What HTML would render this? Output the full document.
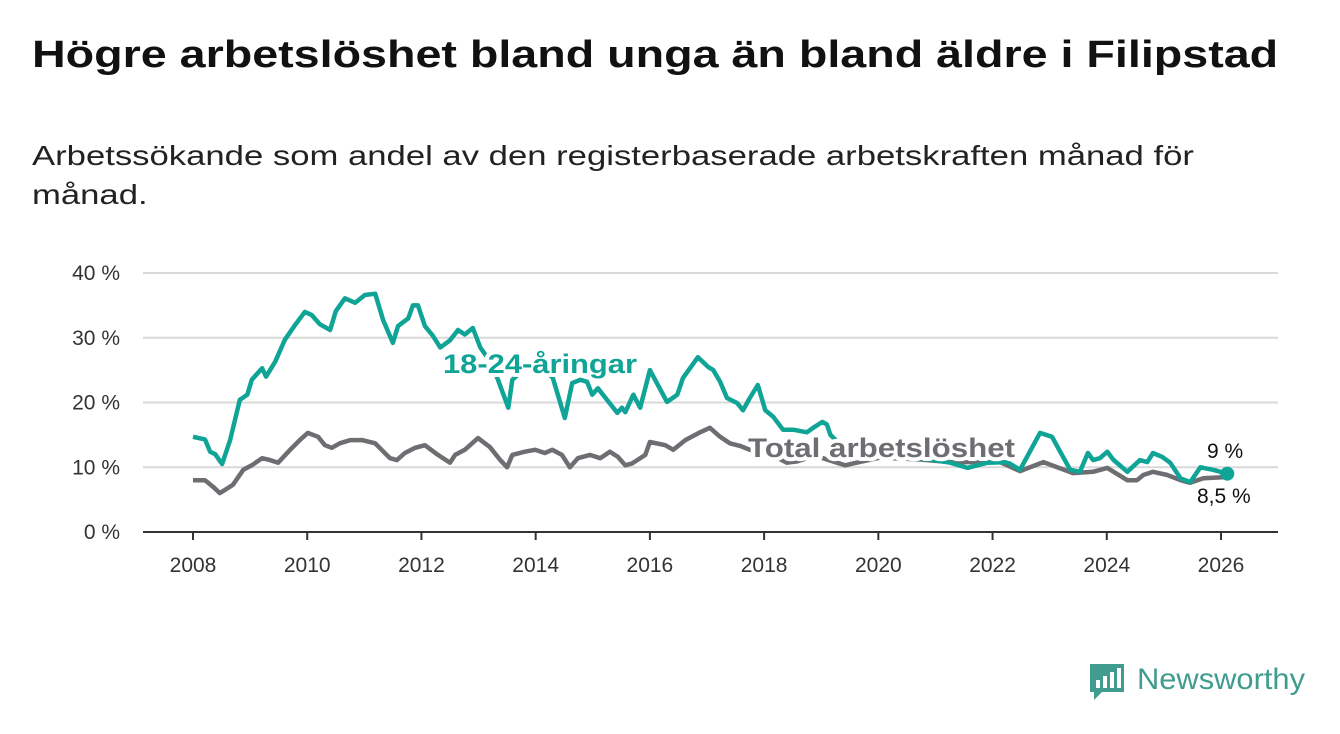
<!DOCTYPE html>
<html><head><meta charset="utf-8">
<style>
body{margin:0;background:#fff;width:1340px;height:734px;overflow:hidden;font-family:"Liberation Sans",sans-serif;}
.t{position:absolute;left:32px;top:34px;font-size:38px;font-weight:bold;color:#111;transform:scaleX(1.227);transform-origin:0 0;white-space:nowrap;}
.s{position:absolute;left:32px;top:136px;font-size:28px;line-height:39px;color:#222;transform:scaleX(1.238);transform-origin:0 0;white-space:nowrap;}
svg{position:absolute;left:0;top:0;}
</style></head><body>
<div class="t">Högre arbetslöshet bland unga än bland äldre i Filipstad</div>
<div class="s">Arbetssökande som andel av den registerbaserade arbetskraften månad för<br>månad.</div>
<svg id="c" width="1340" height="734"></svg>
<script>
const yTicks=[0,10,20,30,40];
const yTickLabels=["0 %","10 %","20 %","30 %","40 %"];
const xTicks=[2008,2010,2012,2014,2016,2018,2020,2022,2024,2026];
const youthYears=[2008.00,2008.21,2008.30,2008.39,2008.51,2008.65,2008.82,2008.95,2009.03,2009.21,2009.28,2009.44,2009.61,2009.79,2009.96,2010.08,2010.22,2010.40,2010.50,2010.66,2010.84,2011.01,2011.19,2011.33,2011.50,2011.59,2011.77,2011.85,2011.94,2012.06,2012.20,2012.33,2012.50,2012.64,2012.76,2012.90,2013.03,2013.24,2013.34,2013.52,2013.59,2013.90,2014.16,2014.30,2014.51,2014.64,2014.78,2014.90,2014.99,2015.09,2015.43,2015.51,2015.57,2015.71,2015.83,2016.00,2016.30,2016.48,2016.58,2016.84,2017.02,2017.11,2017.23,2017.35,2017.53,2017.63,2017.75,2017.89,2018.02,2018.16,2018.33,2018.51,2018.75,2018.86,2019.02,2019.10,2019.16,2019.51,2020.03,2020.56,2020.91,2021.26,2021.56,2021.91,2022.26,2022.48,2022.83,2023.04,2023.36,2023.53,2023.67,2023.76,2023.88,2024.01,2024.11,2024.36,2024.58,2024.71,2024.81,2024.97,2025.11,2025.29,2025.46,2025.64,2025.86,2026.11];
const youthValues=[14.7,14.3,12.4,12.0,10.5,14.2,20.4,21.2,23.5,25.3,24.0,26.3,29.7,32.0,34.0,33.5,32.1,31.2,34.1,36.1,35.4,36.6,36.8,32.7,29.2,31.8,33.0,35.0,35.0,31.8,30.3,28.5,29.6,31.2,30.5,31.5,28.5,25.8,23.5,19.2,23.5,26,25,23.8,17.6,23.0,23.5,23.2,21.2,22.2,18.4,19.2,18.5,21.2,19.2,25.0,20.1,21.2,23.8,27.0,25.5,25.0,23.2,20.7,19.9,18.8,20.7,22.7,18.8,17.8,15.8,15.8,15.4,16.1,17.0,16.6,15.0,12.0,12.0,11.5,11.2,10.7,9.9,10.7,10.8,9.6,15.3,14.7,9.6,9.3,12.2,11.1,11.4,12.4,11.2,9.3,11.1,10.8,12.2,11.6,10.7,8.3,7.7,10.0,9.6,9.0];
const totalYears=[2008.00,2008.21,2008.35,2008.47,2008.56,2008.70,2008.88,2009.03,2009.21,2009.35,2009.49,2009.70,2009.87,2010.01,2010.19,2010.31,2010.43,2010.57,2010.75,2010.96,2011.19,2011.45,2011.57,2011.71,2011.89,2012.06,2012.29,2012.50,2012.59,2012.76,2012.99,2013.20,2013.38,2013.50,2013.59,2013.81,2013.99,2014.16,2014.29,2014.46,2014.60,2014.74,2014.95,2015.13,2015.30,2015.44,2015.57,2015.69,2015.92,2016.00,2016.27,2016.41,2016.62,2016.88,2017.05,2017.23,2017.40,2017.58,2017.75,2018.11,2018.40,2018.58,2018.89,2019.42,2019.56,2020.03,2020.73,2021.26,2022.13,2022.48,2022.89,2023.41,2023.76,2024.01,2024.36,2024.53,2024.64,2024.81,2025.06,2025.29,2025.46,2025.69,2026.11];
const totalValues=[8.0,8.0,7.0,6.0,6.5,7.3,9.6,10.3,11.4,11.1,10.7,12.7,14.2,15.3,14.7,13.4,13.0,13.7,14.2,14.2,13.7,11.4,11.1,12.2,13.0,13.4,11.9,10.7,11.9,12.7,14.5,13.1,11.1,10.0,11.9,12.4,12.7,12.2,12.7,11.9,10.0,11.4,11.9,11.4,12.4,11.6,10.3,10.6,11.9,13.9,13.4,12.7,14.2,15.4,16.1,14.7,13.7,13.3,12.7,12.0,10.7,10.9,11.8,10.3,10.6,11.5,11.2,10.8,10.8,9.4,10.8,9.1,9.3,9.9,8.0,8.0,8.8,9.3,8.8,8.0,7.6,8.3,8.5];
const endLabels=["9 %","8,5 %"];

const NS="http://www.w3.org/2000/svg";
const svg=document.getElementById('c');
const X=y=>193+(y-2008)*(1028/18);
const Y=v=>532-v*6.475;
function mk(t,a){const e=document.createElementNS(NS,t);for(const k in a)e.setAttribute(k,a[k]);svg.appendChild(e);return e;}
yTicks.forEach((v,i)=>{
  if(v>0){const g=mk('line',{x1:143,x2:1278,y1:Y(v),y2:Y(v),stroke:'#d9d9d9','stroke-width':2});
  
  }
  const t=mk('text',{x:120,y:Y(v)+7,'text-anchor':'end','font-size':21,fill:'#333','font-family':'Liberation Sans, sans-serif'});
  t.textContent=yTickLabels[i];
  
  
});
const ax=mk('line',{x1:143,x2:1278,y1:532,y2:532,stroke:'#333','stroke-width':2});


xTicks.forEach(yr=>{
  const tk=mk('line',{x1:X(yr),x2:X(yr),y1:532,y2:540,stroke:'#333','stroke-width':2});
  
  
  const t=mk('text',{x:X(yr),y:572,'text-anchor':'middle','font-size':21,fill:'#333','font-family':'Liberation Sans, sans-serif'});
  t.textContent=yr;
  
  
});
function line(xs,vs,col,name){
  const p=mk('path',{d:xs.map((x,i)=>(i?'L':'M')+X(x).toFixed(1)+','+Y(vs[i]).toFixed(1)).join(''),fill:'none',stroke:col,'stroke-width':4.5,'stroke-linejoin':'round'});
  
  
}
line(totalYears,totalValues,'#6e6d72','total-line');
line(youthYears,youthValues,'#0fa495','youth-line');
const dot=mk('circle',{cx:X(youthYears[youthYears.length-1]),cy:Y(youthValues[youthValues.length-1]),r:7,fill:'#0fa495'});


function lab(x,y,txt,col,name,size,bold,len){
  const a={x:x,y:y,'font-size':size,'font-weight':bold?'bold':'normal',fill:col,stroke:'#fff','stroke-width':bold?8:5,'paint-order':'stroke','stroke-linejoin':'round','font-family':'Liberation Sans, sans-serif'};
  if(len){a.textLength=len;a.lengthAdjust='spacingAndGlyphs';}
  const t=mk('text',a);
  t.textContent=txt;
  
  
}
lab(443,373,'18-24-åringar','#0fa495','youth-series-label',27,true,194);
lab(748,457,'Total arbetslöshet','#6e6d72','total-series-label',27,true,267);
lab(1207,458,endLabels[0],'#111','youth-end-label',21,false);
lab(1197,503,endLabels[1],'#111','total-end-label',21,false);
</script>
<svg width="1340" height="734" style="pointer-events:none">
<path d="M1090 664 h34 v28 h-22 l-8 8 v-8 h-4z" fill="#3f9c8e"/>
<rect x="1096" y="680" width="4" height="8" fill="#fff"/><rect x="1103" y="676" width="4" height="12" fill="#fff"/><rect x="1110" y="672" width="4" height="16" fill="#fff"/><rect x="1117" y="668" width="4" height="20" fill="#fff"/>
<text x="1137" y="689" font-size="30" fill="#3f9c8e" font-family="Liberation Sans, sans-serif" textLength="168" lengthAdjust="spacingAndGlyphs">Newsworthy</text>
</svg>
</body></html>
